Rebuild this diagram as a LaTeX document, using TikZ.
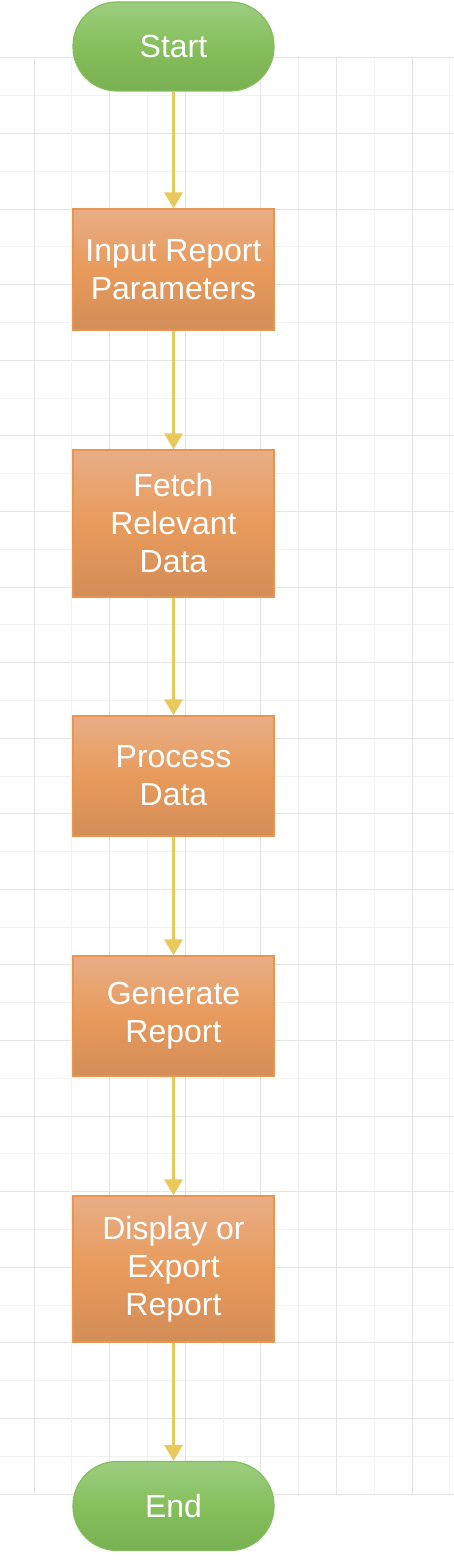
\documentclass[tikz,border=0pt]{standalone}
\usepackage{fontspec}
\setmainfont{Liberation Sans}
\usetikzlibrary{arrows.meta}
\definecolor{gridmajor}{HTML}{E4E4E4}
\definecolor{gridminor}{HTML}{F2F2F2}
\definecolor{greentop}{HTML}{9DCD80}
\definecolor{greenmid}{HTML}{86BF5C}
\definecolor{greenbot}{HTML}{79B052}
\definecolor{greenline}{HTML}{82BE5B}
\definecolor{orangetop}{HTML}{E8AE86}
\definecolor{orangemid}{HTML}{E89A5B}
\definecolor{orangebot}{HTML}{D38D58}
\definecolor{orangeline}{HTML}{E8964F}
\definecolor{arrowcol}{HTML}{E8C95A}
\tikzset{
  terminal/.style={draw=greenline, line width=1.2pt, rounded corners=44pt,
    top color=greentop, bottom color=greenbot, middle color=greenmid,
    minimum width=201pt, minimum height=89pt, inner sep=0pt,
    text=white, font=\fontsize{32}{38}\selectfont, align=center},
  procbox/.style={draw=orangeline, line width=1.2pt,
    top color=orangetop, bottom color=orangebot, middle color=orangemid,
    minimum width=201pt, inner sep=0pt,
    text=white, font=\fontsize{32}{38}\selectfont, align=center},
  flow/.style={draw=arrowcol, line width=3pt,
    -{Triangle[width=18pt,length=16pt]}, arrowcol},
  majorline/.style={draw=gridmajor, line width=1pt},
  minorline/.style={draw=gridminor, line width=1pt}
}
\begin{document}
\begin{tikzpicture}[x=1pt,y=-1pt]
\useasboundingbox (0,0) rectangle (454,1562);
\fill[white] (0,0) rectangle (454,1562);
% grid
\foreach \i in {0,...,38}{
  \pgfmathsetmacro{\yy}{58+37.79*\i}
  \ifodd\i
    \draw[minorline] (0,\yy) -- (454,\yy);
  \else
    \draw[majorline] (0,\yy) -- (454,\yy);
  \fi
}
\foreach \i in {0,...,11}{
  \pgfmathsetmacro{\xx}{34+37.8*\i}
  \ifodd\i
    \draw[minorline] (\xx,58) -- (\xx,1494);
  \else
    \draw[majorline] (\xx,58) -- (\xx,1494);
  \fi
}
% nodes
\node[terminal] (start) at (173.5,46.5) {Start};
\node[procbox, minimum height=121pt] (input) at (173.5,269.5) {Input Report\\Parameters};
\node[procbox, minimum height=147pt] (fetch) at (173.5,523.5) {Fetch\\Relevant\\Data};
\node[procbox, minimum height=120pt] (process) at (173.5,776) {Process\\Data};
\node[procbox, minimum height=120pt] (generate) at (173.5,1016) {Generate\\Report};
\node[procbox, minimum height=146pt] (display) at (173.5,1269) {Display or\\Export\\Report};
\node[terminal] (end) at (173.5,1506) {End};
% connectors
\draw[flow] (start) -- (input);
\draw[flow] (input) -- (fetch);
\draw[flow] (fetch) -- (process);
\draw[flow] (process) -- (generate);
\draw[flow] (generate) -- (display);
\draw[flow] (display) -- (end);
\end{tikzpicture}
\end{document}
